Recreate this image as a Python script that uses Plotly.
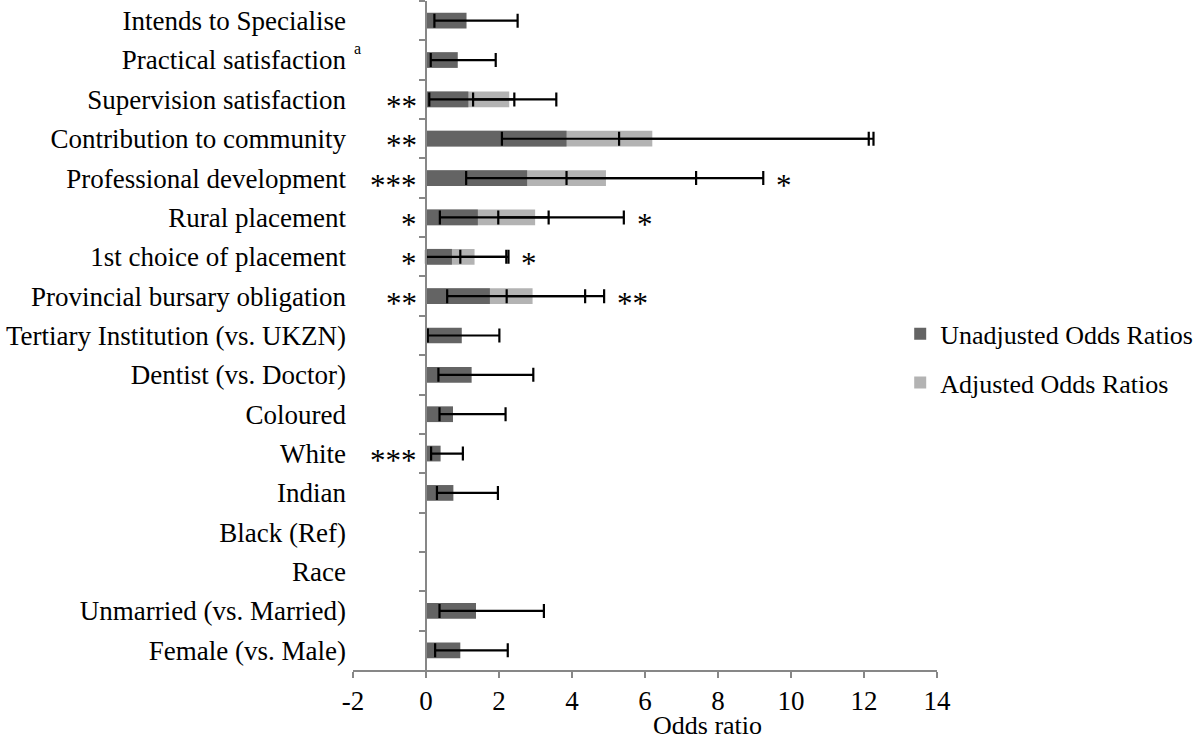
import plotly.graph_objects as go

categories = ["Intends to Specialise", "Practical satisfaction", "Supervision satisfaction",
              "Contribution to community", "Professional development", "Rural placement",
              "1st choice of placement", "Provincial bursary obligation",
              "Tertiary Institution (vs. UKZN)", "Dentist (vs. Doctor)", "Coloured", "White",
              "Indian", "Black (Ref)", "Race", "Unmarried (vs. Married)", "Female (vs. Male)"]

unadj_or = [1.11, 0.87, 1.16, 3.85, 2.77, 1.42, 0.71, 1.75, 0.98, 1.25, 0.74, 0.40, 0.75, None, None, 1.37, 0.94]
unadj_lo = [0.23, 0.13, 0.09, 2.08, 1.10, 0.38, 0.00, 0.58, 0.05, 0.34, 0.37, 0.14, 0.30, None, None, 0.37, 0.25]
unadj_hi = [2.51, 1.91, 2.42, 12.13, 7.40, 3.36, 2.20, 4.36, 2.01, 2.94, 2.18, 1.01, 1.97, None, None, 3.23, 2.24]

adj_or = [None, None, 2.28, 6.20, 4.93, 2.99, 1.33, 2.92, None, None, None, None, None, None, None, None, None]
adj_lo = [None, None, 1.29, 5.29, 3.85, 1.98, 0.94, 2.21, None, None, None, None, None, None, None, None, None]
adj_hi = [None, None, 3.57, 12.26, 9.24, 5.42, 2.26, 4.88, None, None, None, None, None, None, None, None, None]

left_sig = ["", "", "**", "**", "***", "*", "*", "**", "", "", "", "***", "", "", "", "", ""]
right_sig = ["", "", "", "", "*", "*", "*", "**", "", "", "", "", "", "", "", "", ""]

x_ticks = [-2, 0, 2, 4, 6, 8, 10, 12, 14]

FONT = "Liberation Serif, Times New Roman, serif"
FS = 27
STAR_FS = 31
DARK = "#646464"
LIGHT = "#b3b3b3"
AXIS = "#878787"


def err_plus(v, hi):
    return [None if a is None else b - a for a, b in zip(v, hi)]


def err_minus(v, lo):
    return [None if a is None else a - b for a, b in zip(v, lo)]


fig = go.Figure()

fig.add_trace(go.Bar(
    name="Adjusted Odds Ratios", y=categories, x=adj_or, orientation="h",
    marker=dict(color=LIGHT, line=dict(width=0)), width=0.4,
    error_x=dict(type="data", symmetric=False, array=err_plus(adj_or, adj_hi),
                 arrayminus=err_minus(adj_or, adj_lo), color="black", thickness=2.2, width=7),
    legendrank=2, legendgroup="b",
))
fig.add_trace(go.Bar(
    name="Unadjusted Odds Ratios", y=categories, x=unadj_or, orientation="h",
    marker=dict(color=DARK, line=dict(width=0)), width=0.4,
    error_x=dict(type="data", symmetric=False, array=err_plus(unadj_or, unadj_hi),
                 arrayminus=err_minus(unadj_or, unadj_lo), color="black", thickness=2.2, width=7),
    legendrank=1, legendgroup="a",
))

# invisible helper trace for the vertical axis drawn at x = 0
fig.add_trace(go.Scatter(
    y=categories, x=[0] * len(categories), yaxis="y2", mode="markers",
    marker=dict(opacity=0), showlegend=False, hoverinfo="skip",
))

annotations = []
for cat, s in zip(categories, left_sig):
    if s:
        annotations.append(dict(x=-0.2, y=cat, text=s, showarrow=False, xanchor="right",
                                yanchor="middle", yshift=-7,
                                font=dict(family=FONT, size=STAR_FS, color="black")))
for cat, s, h1, h2 in zip(categories, right_sig, unadj_hi, adj_hi):
    if s:
        xm = max(v for v in (h1, h2) if v is not None)
        annotations.append(dict(x=xm + 0.3, y=cat, text=s, showarrow=False, xanchor="left",
                                yanchor="middle", yshift=-7,
                                font=dict(family=FONT, size=STAR_FS, color="black")))

# superscript note marker
annotations.append(dict(x=-2, y=categories[1], text="a", showarrow=False,
                        xanchor="left", yanchor="middle", xshift=-1, yshift=12,
                        font=dict(family=FONT, size=16, color="black")))

# axis title
annotations.append(dict(x=7.7, y=0, xref="x", yref="paper", text="Odds ratio", showarrow=False,
                        xanchor="center", yanchor="middle", yshift=-55,
                        font=dict(family=FONT, size=26, color="black")))

n = len(categories)
fig.update_layout(
    width=1200, height=740,
    margin=dict(l=353, r=263, t=1, b=70, autoexpand=False),
    paper_bgcolor="white", plot_bgcolor="white",
    barmode="overlay",
    font=dict(family=FONT, size=FS, color="black"),
    xaxis=dict(range=[-2, 14], tickvals=x_ticks, ticktext=[str(v) for v in x_ticks],
               showgrid=False, zeroline=False, showline=True, linecolor=AXIS, linewidth=2,
               ticks="outside", tickcolor=AXIS, ticklen=6, tickwidth=2, automargin=False,
               ticklabelstandoff=0,
               tickfont=dict(family=FONT, size=FS, color="black")),
    yaxis=dict(type="category", categoryorder="array", categoryarray=categories,
               range=[n - 0.5, -0.5], showgrid=False, zeroline=False, showline=False,
               ticks="", ticklabelstandoff=6, automargin=False,
               tickfont=dict(family=FONT, size=FS, color="black")),
    yaxis2=dict(type="category", categoryorder="array", categoryarray=categories,
                range=[n - 0.5, -0.5], overlaying="y", anchor="free", position=0.125,
                side="left", showgrid=False, zeroline=False, showline=True, linecolor=AXIS,
                linewidth=2, ticks="outside", tickson="boundaries", ticklen=6, tickwidth=2,
                tickcolor=AXIS, showticklabels=False, automargin=False),
    legend=dict(x=0.937, y=0.466, xanchor="left", yanchor="middle",
                font=dict(family=FONT, size=26, color="black"),
                traceorder="grouped", tracegroupgap=12, itemwidth=30,
                bgcolor="rgba(0,0,0,0)"),
    annotations=annotations,
    showlegend=True,
)

fig.write_html("out.html", config={"displayModeBar": False},
               post_script="document.body.style.margin='0';document.body.style.padding='0';")
